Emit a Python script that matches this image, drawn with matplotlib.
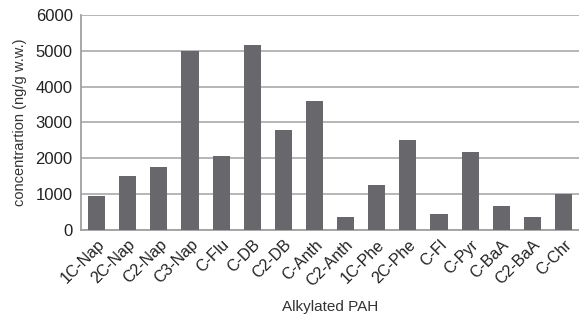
import matplotlib.pyplot as plt

plt.rcParams['font.family'] = ['Liberation Sans', 'DejaVu Sans']

categories = ["1C-Nap", "2C-Nap", "C2-Nap", "C3-Nap", "C-Flu", "C-DB", "C2-DB",
              "C-Anth", "C2-Anth", "1C-Phe", "2C-Phe", "C-Fl", "C-Pyr",
              "C-BaA", "C2-BaA", "C-Chr"]
values = [950, 1500, 1750, 5000, 2060, 5170, 2800,
          3610, 370, 1250, 2500, 450, 2170,
          670, 370, 1000]
yticks = [0, 1000, 2000, 3000, 4000, 5000, 6000]

fig = plt.figure(figsize=(5.79, 3.2), dpi=100)
ax = fig.add_axes([0.14, 0.281, 0.86, 0.673])

x = range(len(categories))
ax.bar(x, values, width=0.55, color="#68686c", zorder=3)

ax.set_xlim(-0.5, len(categories) - 0.5)
ax.set_ylim(0, 6000)
ax.set_yticks(yticks)
ax.yaxis.grid(True, color="#b0b0b0", linewidth=1.3, zorder=0)

ax.set_xticks(list(x))
ax.set_xticklabels(categories, rotation=45, ha="right", rotation_mode="anchor",
                   fontsize=11.5, color="#222222")
ax.tick_params(axis="y", labelsize=12, colors="#222222", length=0, pad=6)
ax.tick_params(axis="x", length=0, pad=5)

for s in ["top", "right"]:
    ax.spines[s].set_visible(False)
ax.spines["left"].set_color("#a0a0a0")
ax.spines["bottom"].set_color("#a0a0a0")
ax.spines["left"].set_linewidth(1.3)
ax.spines["bottom"].set_linewidth(1.3)

ax.set_ylabel("concentrartion (ng/g w.w.)", fontsize=10.5, color="#333333", labelpad=6)
ax.set_xlabel("Alkylated PAH", fontsize=11, color="#333333", labelpad=8)

fig.savefig("out.png", dpi=100)
